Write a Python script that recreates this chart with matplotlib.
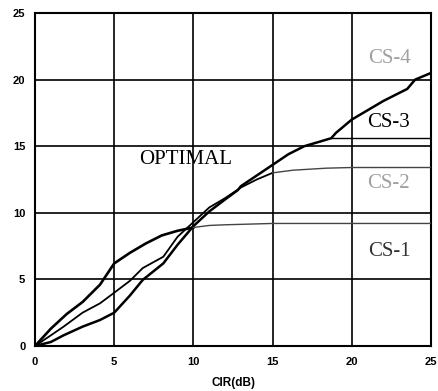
import matplotlib
matplotlib.use("Agg")
import matplotlib.pyplot as plt

# ---- data ----
cir_cs1 = [0, 1, 2, 3, 4.1, 5, 6, 7, 8, 9, 10, 11, 12, 15, 20, 25]
cs1 = [0, 1.3, 2.4, 3.3, 4.6, 6.2, 7.0, 7.7, 8.3, 8.65, 8.9, 9.05, 9.1, 9.2, 9.2, 9.2]

cir_cs2 = [0, 1, 1.8, 3, 4.1, 5, 6, 6.8, 8.1, 9, 10, 11, 12, 13, 14, 15, 16.3, 18.4, 20, 25]
cs2 = [0, 0.8, 1.45, 2.5, 3.2, 4.0, 4.9, 5.85, 6.7, 8.2, 9.3, 10.4, 11.1, 11.9, 12.5, 13.0, 13.2, 13.35, 13.4, 13.4]

cir_cs3 = [0, 1, 1.8, 3, 4.1, 5, 6, 6.8, 8.1, 9, 10, 11, 12, 12.8, 13, 14, 15, 16, 17, 18, 18.7, 20, 25]
cs3 = [0, 0.3, 0.8, 1.45, 1.95, 2.5, 3.8, 4.96, 6.2, 7.6, 9.0, 10.1, 11.0, 11.7, 12.0, 12.8, 13.6, 14.4, 15.0, 15.35, 15.6, 15.6, 15.6]

cir_opt = [0, 1, 1.8, 3, 4.1, 5, 6, 6.8, 8.1, 9, 10, 11, 12, 12.8, 13, 14, 15, 16, 17, 18, 18.7, 19, 20, 21, 22, 23, 23.5, 24, 25]
optimal = [0, 0.3, 0.8, 1.45, 1.95, 2.5, 3.8, 4.96, 6.2, 7.6, 9.0, 10.1, 11.0, 11.7, 12.0, 12.8, 13.6, 14.4, 15.0, 15.35, 15.6, 16.0, 17.0, 17.7, 18.4, 19.0, 19.3, 20.0, 20.5]

# knee (start of the saturated part) of each curve
knee_cs1, knee_cs2, knee_cs3 = 10, 15, 18.7

labels = ["CS-4", "CS-3", "OPTIMAL", "CS-2", "CS-1"]
label_x = [22.4, 22.3, 9.5, 22.3, 22.4]
label_y = [21.6, 16.8, 14.0, 12.2, 7.1]
label_colors = ["#a0a0a0", "black", "black", "#a0a0a0", "#333333"]

ticks = [0, 5, 10, 15, 20, 25]

fig = plt.figure(figsize=(4.38, 3.91), dpi=100)
ax = fig.add_axes([35/438, 1-346/391, 396/438, 333/391])


def split(xs, ys, knee):
    a = [(x, y) for x, y in zip(xs, ys) if x <= knee]
    b = [(x, y) for x, y in zip(xs, ys) if x >= knee]
    return list(zip(*a)), list(zip(*b))


(r1, p1) = split(cir_cs1, cs1, knee_cs1)
(r2, p2) = split(cir_cs2, cs2, knee_cs2)
(r3, p3) = split(cir_cs3, cs3, knee_cs3)

ax.plot(cir_opt, optimal, color="black", lw=1.8, zorder=4)
ax.plot(*r1, color="black", lw=1.9, zorder=4)
ax.plot(*p1, color="#444444", lw=1.0, zorder=4)
ax.plot(*r2, color="black", lw=1.3, zorder=4)
ax.plot(*p2, color="#444444", lw=1.0, zorder=4)
ax.plot(*p3, color="black", lw=1.0, zorder=4)

for t, x, y, c in zip(labels, label_x, label_y, label_colors):
    ax.text(x, y, t, ha="center", va="center", fontsize=15,
            family="Liberation Serif", color=c, zorder=5)

ax.set_xlim(0, 25)
ax.set_ylim(0, 25)
ax.set_xticks(ticks)
ax.set_yticks(ticks)
ax.set_xticklabels([str(t) for t in ticks], fontsize=8, fontweight="bold",
                   family="Liberation Sans")
ax.set_yticklabels([str(t) for t in ticks], fontsize=8, fontweight="bold",
                   family="Liberation Sans")
ax.tick_params(axis="both", length=0)
ax.tick_params(axis="x", pad=8)
ax.tick_params(axis="y", pad=7)
ax.grid(True, color="black", lw=1.2)
ax.set_axisbelow(True)
for s in ax.spines.values():
    s.set_linewidth(1.5)
ax.set_xlabel("CIR(dB)", fontsize=8.5, fontweight="bold",
              family="Liberation Sans", labelpad=7)

fig.savefig("out.png", dpi=100)
